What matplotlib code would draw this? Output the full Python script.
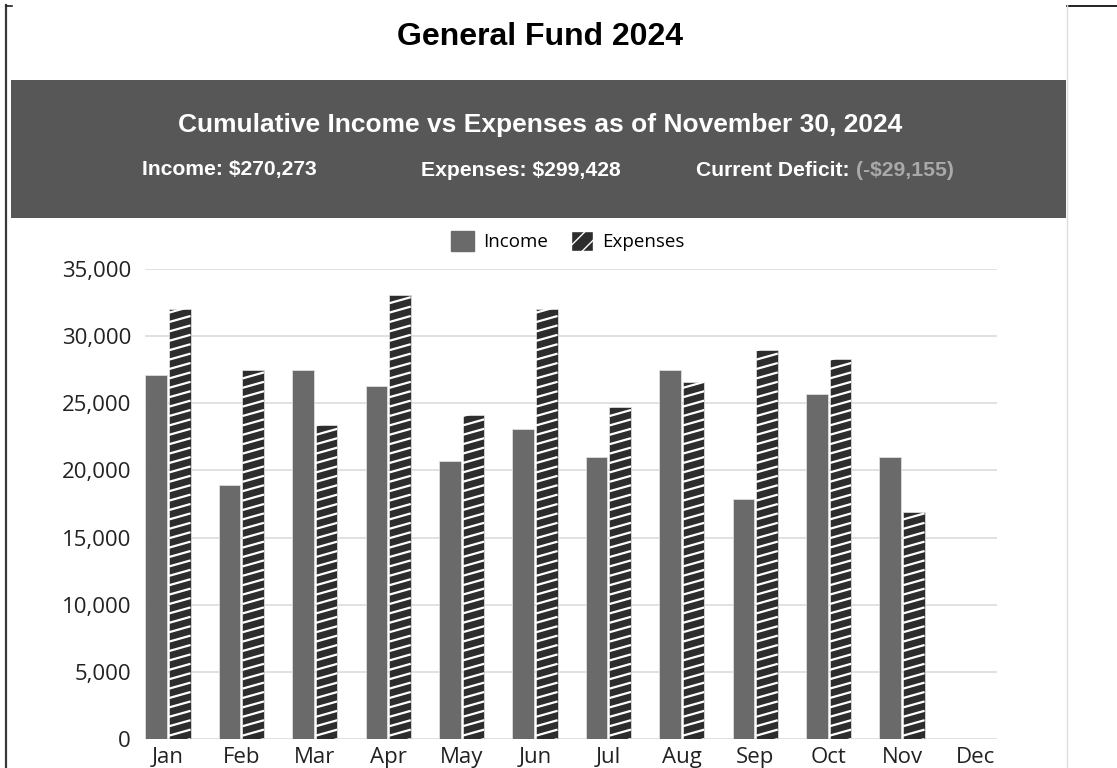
import matplotlib
matplotlib.use("Agg")
from matplotlib import pyplot as plt
from matplotlib.patches import Rectangle, Patch
from matplotlib.lines import Line2D
from matplotlib.collections import LineCollection
from matplotlib.ticker import FuncFormatter

# monthly values
months = ["Jan", "Feb", "Mar", "Apr", "May", "Jun", "Jul", "Aug", "Sep", "Oct", "Nov", "Dec"]
income = [27100, 18900, 27500, 26300, 20700, 23100, 21000, 27500, 17900, 25700, 21000, 0]
expenses = [32000, 27500, 23400, 33100, 24100, 32000, 24700, 26600, 29000, 28300, 16900, 0]

title = "General Fund 2024"
subtitle = "Cumulative Income vs Expenses as of November 30, 2024"
income_total = "Income: $270,273"
expense_total = "Expenses: $299,428"
deficit_label = "Current Deficit:"
deficit_value = "(-$29,155)"

W, H = 1117, 768
fig = plt.figure(figsize=(W / 100, H / 100), dpi=100)
fig.patch.set_facecolor("white")

def fx(px):
    return px / W

def fy(py):
    return 1 - py / H

# page borders
fig.add_artist(Line2D([fx(6), fx(6)], [fy(5), 0], color="#3a3a3a", lw=1.6))
fig.add_artist(Line2D([fx(6), fx(12)], [fy(5.5), fy(5.5)], color="#222222", lw=1.2))
fig.add_artist(Line2D([fx(1067), 1], [fy(5.5), fy(5.5)], color="#222222", lw=1.4))
fig.add_artist(Line2D([fx(1067), fx(1067)], [fy(5), 0], color="#dddddd", lw=1.0))

# title + header box
fig.text(fx(540), fy(37), title, ha="center", va="center", fontsize=23,
         fontweight="bold", family="Liberation Sans", color="black")
fig.add_artist(Rectangle((fx(11), fy(218)), fx(1055), 138 / H,
                         transform=fig.transFigure, facecolor="#575757", edgecolor="none"))
fig.text(fx(540), fy(125), subtitle, ha="center", va="center", fontsize=19,
         fontweight="bold", family="Liberation Sans", color="white")
fig.text(fx(229), fy(170), income_total, ha="center", va="center", fontsize=15.2,
         fontweight="bold", family="Liberation Sans", color="white")
fig.text(fx(521), fy(170), expense_total, ha="center", va="center", fontsize=15.2,
         fontweight="bold", family="Liberation Sans", color="white")
fig.text(fx(696), fy(170), deficit_label, ha="left", va="center", fontsize=15.2,
         fontweight="bold", family="Liberation Sans", color="white")
fig.text(fx(856), fy(170), deficit_value, ha="left", va="center", fontsize=15.2,
         fontweight="bold", family="Liberation Sans", color="#a9a9a9")

# chart
ax = fig.add_axes([fx(145), fy(739), fx(997 - 145), (739 - 269) / H])
step = 73.4
x = list(range(len(months)))
bw = 21.5 / step
off = 11.8 / step

ax.bar([i - off for i in x], income, width=bw, color="#6a6a6a",
       edgecolor="#e6e6e6", linewidth=0.5, zorder=3)
bars = ax.bar([i + off for i in x], expenses, width=bw, color="#2d2d2d",
              edgecolor="#e6e6e6", linewidth=0.5, zorder=3)

# shallow white stripes on the expense bars
gap = 700
rise = 450
for b in bars:
    h = b.get_height()
    if h <= 0:
        continue
    x0 = b.get_x()
    x1 = x0 + b.get_width()
    segs = []
    y = -rise
    while y < h + gap:
        segs.append([(x0, y), (x1, y + rise)])
        y += gap
    lc = LineCollection(segs, colors="white", linewidths=1.6, zorder=4)
    ax.add_collection(lc)
    lc.set_clip_path(b)

ax.set_xlim(-23 / step, (997 - 168) / step)
ax.set_ylim(0, 35000)
ax.set_yticks(range(0, 35001, 5000))
ax.yaxis.set_major_formatter(FuncFormatter(lambda v, p: f"{int(v):,}"))
ax.set_xticks(x)
ax.set_xticklabels(months)
ax.grid(axis="y", color="#d8d8d8", linewidth=1.1, zorder=0)
ax.set_axisbelow(True)
for s in ax.spines.values():
    s.set_visible(False)
ax.tick_params(axis="both", length=0, labelsize=16, labelcolor="#222222")
ax.tick_params(axis="y", pad=10)
ax.tick_params(axis="x", pad=6)
for lab in ax.get_xticklabels() + ax.get_yticklabels():
    lab.set_family("Open Sans")

handles = [Patch(facecolor="#6a6a6a", edgecolor="#6a6a6a", label="Income"),
           Patch(facecolor="#2d2d2d", edgecolor="white", hatch="//", label="Expenses")]
fig.legend(handles=handles, loc="center", bbox_to_anchor=(fx(568), fy(241)), ncol=2,
           frameon=False, prop={"family": "Open Sans", "size": 13.5},
           handlelength=1.2, handleheight=1.3, handletextpad=0.5, columnspacing=1.2)

fig.savefig("out.png", dpi=100)
